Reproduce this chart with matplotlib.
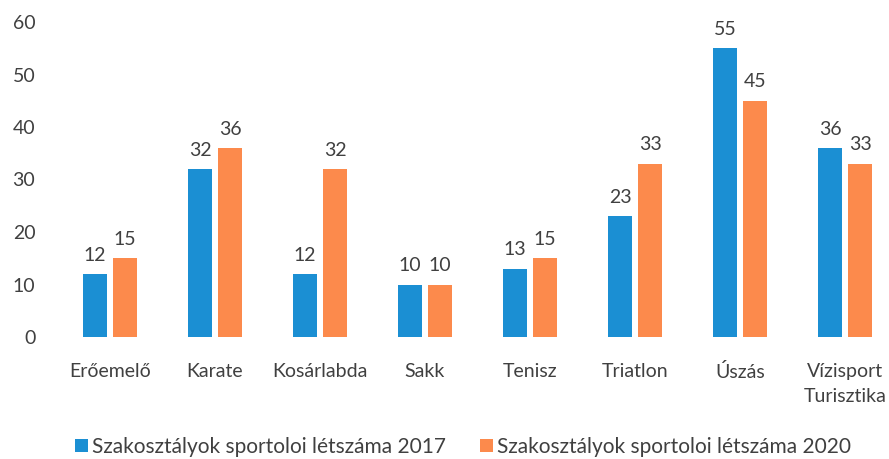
import matplotlib
matplotlib.use("Agg")
import matplotlib.pyplot as plt
import numpy as np

categories = ["Erőemelő", "Karate", "Kosárlabda", "Sakk", "Tenisz", "Triatlon", "Úszás", "Vízisport\nTurisztika"]
values_2017 = [12, 32, 12, 10, 13, 23, 55, 36]
values_2020 = [15, 36, 32, 10, 15, 33, 45, 33]
series_names = ["Szakosztályok sportoloi létszáma 2017", "Szakosztályok sportoloi létszáma 2020"]
y_ticks = [0, 10, 20, 30, 40, 50, 60]

plt.rcParams['font.family'] = ['Lato', 'DejaVu Sans']
text_color = "#404040"

fig = plt.figure(figsize=(8.89, 4.59), dpi=100)
ax = fig.add_axes([57.5/889, (459-337)/459, (889-57.5)/889, 315/459])

x = np.arange(len(categories))
w = 0.22
off = 0.143
blue = "#1B8FD3"
orange = "#FC8A4C"
b1 = ax.bar(x - off, values_2017, w, color=blue, label=series_names[0])
b2 = ax.bar(x + off, values_2020, w, color=orange, label=series_names[1])

for bars, vals in ((b1, values_2017), (b2, values_2020)):
    for r, v in zip(bars, vals):
        ax.annotate(str(v), (r.get_x() + r.get_width()/2, v), xytext=(0, 7.5),
                    textcoords="offset points", ha="center", va="bottom",
                    fontsize=14, color=text_color)

ax.set_xlim(-0.5, 7.5 - 8.5/105)
ax.set_ylim(0, 60)
ax.set_yticks(y_ticks)
ax.set_xticks(x)
ax.set_xticklabels(categories, fontsize=14, color=text_color, linespacing=1.55)
ax.tick_params(axis='y', labelsize=14, labelcolor=text_color, length=0, pad=16)
ax.tick_params(axis='x', length=0, pad=19)
for lbl in ax.get_xticklabels():
    lbl.set_verticalalignment('top')
for s in ax.spines.values():
    s.set_visible(False)

fig.legend(handles=[b1, b2], labels=series_names, loc='center', bbox_to_anchor=(463/889, 1 - 447/459),
           ncol=2, frameon=False, fontsize=15, handlelength=0.62, handleheight=0.62,
           handletextpad=0.2, columnspacing=1.6, labelcolor=text_color)

fig.savefig("out.png", dpi=100)
